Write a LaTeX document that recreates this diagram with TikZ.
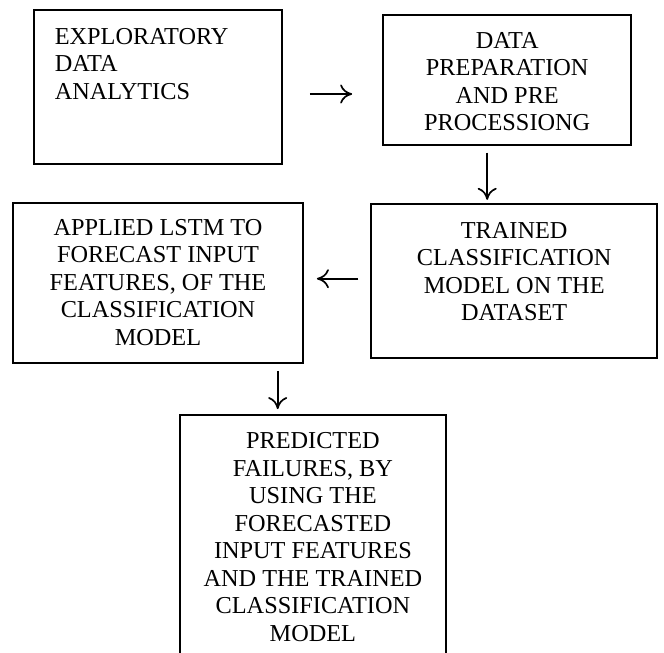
\documentclass[tikz,border=0pt]{standalone}
\usepackage{fontspec}
\setmainfont{Liberation Serif}
\usetikzlibrary{arrows.meta}

\begin{document}
\begin{tikzpicture}[x=1pt,y=-1pt,font=\fontsize{24.3pt}{27.5pt}\selectfont,box/.style={draw,line width=1.8pt,inner sep=0pt},arr/.style={-{Computer Modern Rightarrow[length=12pt,width=19pt,line width=1.7pt]},line width=1.7pt}]
  \useasboundingbox (0,0) rectangle (664,653);
  \clip (0,0) rectangle (664,653);
  \node[box] (eda) at (158,87) {\begin{minipage}[c][154pt][t]{247.4pt}\raggedright\leftskip=20.5pt\vspace*{18pt}EXPLORATORY\\DATA\\ANALYTICS\end{minipage}};
  \node[box] (prep) at (507.2,80) {\begin{minipage}[c][130pt][t]{248.3pt}\centering\vspace*{17pt}DATA\\PREPARATION\\AND PRE\\PROCESSIONG\end{minipage}};
  \node[box] (trained) at (514.2,280.9) {\begin{minipage}[c][153.7pt][t]{286.3pt}\centering\vspace*{18pt}TRAINED\\CLASSIFICATION\\MODEL ON THE\\DATASET\end{minipage}};
  \node[box] (lstm) at (158,283) {\begin{minipage}[c][160.6pt][t]{290.6pt}\centering\vspace*{16.6pt}APPLIED LSTM TO\\FORECAST INPUT\\FEATURES, OF THE\\CLASSIFICATION\\MODEL\end{minipage}};
  \node[box] (predict) at (312.9,542.5) {\begin{minipage}[c][255pt][t]{265.7pt}\centering\vspace*{17.5pt}PREDICTED\\FAILURES, BY\\USING THE\\FORECASTED\\INPUT FEATURES\\AND THE TRAINED\\CLASSIFICATION\\MODEL\end{minipage}};
  \coordinate (r1) at ([yshift=-7pt]eda.east);
  \coordinate (d1) at ([xshift=-20pt]prep.south);
  \coordinate (l1) at ([yshift=2.2pt]trained.west);
  \coordinate (d2) at ([xshift=-35.2pt]predict.north);
  \draw[arr,shorten <=27.3pt,shorten >=30pt] (r1) -- (r1 -| prep.west);
  \draw[arr,shorten <=6.7pt,shorten >=3.3pt] (d1) -- (d1 |- trained.north);
  \draw[arr,shorten <=11.7pt,shorten >=12.7pt] (l1) -- (l1 -| lstm.east);
  \draw[arr,shorten <=6.7pt,shorten >=5pt] (d2 |- lstm.south) -- (d2);
\end{tikzpicture}
\end{document}
